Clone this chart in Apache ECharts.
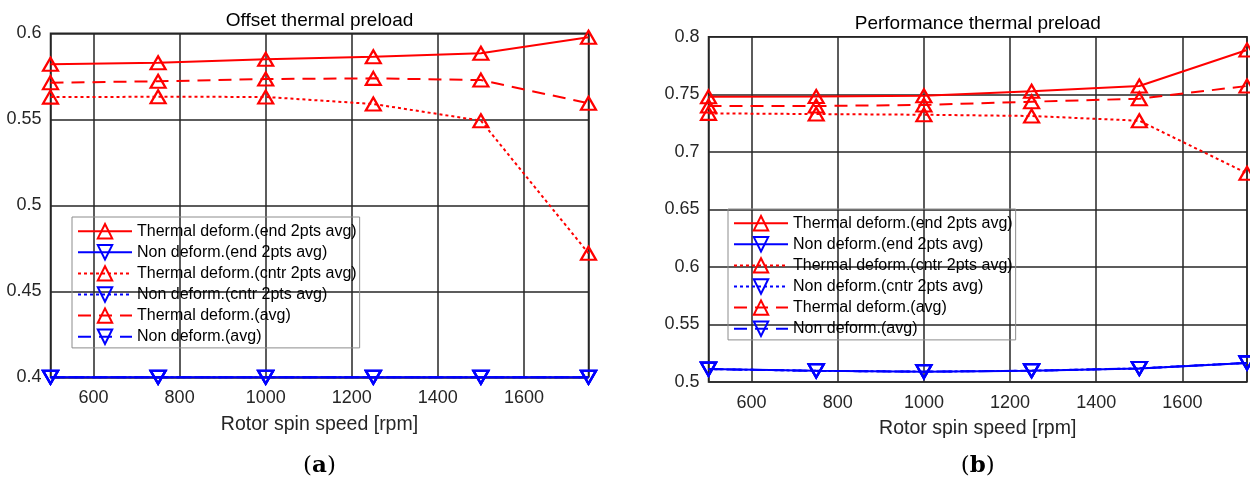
<!DOCTYPE html>
<html>
<head>
<meta charset="utf-8">
<script src="https://cdn.jsdelivr.net/npm/echarts@6/dist/echarts.min.js"></script>
<style>
html,body{margin:0;padding:0;background:#fff;}
#chart{width:1250px;height:482px;}
</style>
</head>
<body>
<div id="chart"></div>
<script>
// ---- data ----
const speeds = [500, 750, 1000, 1250, 1500, 1750];
const xTicks = [600, 800, 1000, 1200, 1400, 1600];

const seriesNames = [
  'Thermal deform.(end 2pts avg)',
  'Non deform.(end 2pts avg)',
  'Thermal deform.(cntr 2pts avg)',
  'Non deform.(cntr 2pts avg)',
  'Thermal deform.(avg)',
  'Non deform.(avg)'
];

// (a) Offset thermal preload
const offThermEnd  = [0.5820, 0.5829, 0.5849, 0.5864, 0.5884, 0.5977];
const offNonEnd    = [0.4000, 0.4000, 0.4000, 0.4000, 0.4000, 0.4000];
const offThermCntr = [0.5629, 0.5631, 0.5630, 0.5589, 0.5492, 0.4721];
const offNonCntr   = [0.4000, 0.4000, 0.4000, 0.4000, 0.4000, 0.4000];
const offThermAvg  = [0.5713, 0.5721, 0.5734, 0.5738, 0.5728, 0.5593];
const offNonAvg    = [0.4000, 0.4000, 0.4000, 0.4000, 0.4000, 0.4000];

// (b) Performance thermal preload
const perfThermEnd  = [0.7479, 0.7480, 0.7487, 0.7526, 0.7572, 0.7884];
const perfNonEnd    = [0.5112, 0.5097, 0.5090, 0.5098, 0.5118, 0.5166];
const perfThermCntr = [0.7334, 0.7328, 0.7322, 0.7311, 0.7270, 0.6813];
const perfNonCntr   = [0.5112, 0.5097, 0.5090, 0.5098, 0.5118, 0.5166];
const perfThermAvg  = [0.7398, 0.7398, 0.7407, 0.7435, 0.7461, 0.7572];
const perfNonAvg    = [0.5112, 0.5097, 0.5090, 0.5098, 0.5118, 0.5166];

const titles = ['Offset thermal preload', 'Performance thermal preload'];
const captions = ['a', 'b'];
const xName = 'Rotor spin speed [rpm]';

// ---- styling ----
const RED = '#ff0000', BLUE = '#0000ff';
const FONT = 'Liberation Sans, Arial, sans-serif';
const TXT = '#262626';
const GRIDC = '#262626';
const UP = 'path://M5,0L10,8.66L0,8.66Z';
const DOWN = 'path://M0,0L10,0L5,8.66Z';
const DASH = [13, 8];
const DOT = [3, 3];

const styleDefs = [
  {color: RED,  type: 'solid', sym: UP},
  {color: BLUE, type: 'solid', sym: DOWN},
  {color: RED,  type: DOT,     sym: UP},
  {color: BLUE, type: DOT,     sym: DOWN},
  {color: RED,  type: DASH,    sym: UP},
  {color: BLUE, type: DASH,    sym: DOWN}
];

const panels = [
  {vals: [offThermEnd, offNonEnd, offThermCntr, offNonCntr, offThermAvg, offNonAvg],
   grid: {left: 50.5, top: 33.3, width: 538, height: 344},
   y: {min: 0.4, max: 0.6},
   legend: {left: 72, top: 217}},
  {vals: [perfThermEnd, perfNonEnd, perfThermCntr, perfNonCntr, perfThermAvg, perfNonAvg],
   grid: {left: 708.5, top: 36.7, width: 538.5, height: 345.3},
   y: {min: 0.5, max: 0.8},
   legend: {left: 728, top: 209}}
];

const grids = [], xAxes = [], yAxes = [], series = [], legends = [], graphics = [];

panels.forEach((p, gi) => {
  grids.push(Object.assign({show: true, borderColor: GRIDC, borderWidth: 1.5, backgroundColor: '#fff'}, p.grid));
  xAxes.push({
    type: 'value', gridIndex: gi, min: speeds[0], max: speeds[speeds.length - 1],
    splitNumber: 6, minInterval: xTicks[1] - xTicks[0], maxInterval: xTicks[1] - xTicks[0],
    name: xName, nameLocation: 'middle', nameGap: 37,
    nameTextStyle: {fontSize: 19.5, color: TXT, fontFamily: FONT},
    axisLine: {show: false}, axisTick: {show: false},
    axisLabel: {show: true, showMinLabel: false, showMaxLabel: false, margin: 12, fontSize: 18, color: TXT, fontFamily: FONT,
      formatter: v => String(v)},
    splitLine: {show: true, lineStyle: {color: GRIDC, width: 1.5}}
  });
  yAxes.push({
    type: 'value', gridIndex: gi, min: p.y.min, max: p.y.max, interval: 0.05,
    axisLine: {show: false}, axisTick: {show: false},
    axisLabel: {margin: 9, fontSize: 18, color: TXT, fontFamily: FONT},
    splitLine: {show: true, lineStyle: {color: GRIDC, width: 1.5}}
  });
  p.vals.forEach((arr, si) => {
    const s = styleDefs[si];
    series.push({
      name: seriesNames[si], type: 'line', xAxisIndex: gi, yAxisIndex: gi,
      data: speeds.map((x, i) => [x, arr[i]]),
      color: s.color,
      symbol: s.sym, symbolSize: [15, 13], showSymbol: true, clip: false,
      lineStyle: {color: s.color, width: 2, type: s.type},
      itemStyle: {color: 'rgba(255,255,255,0)', borderColor: s.color, borderWidth: 2.2},
      emphasis: {disabled: true}, silent: true, z: 3 + si
    });
  });
  legends.push({
    left: p.legend.left, top: p.legend.top, orient: 'vertical',
    itemWidth: 54, itemHeight: 18, itemGap: 4.7, padding: [6, 3, 3, 5],
    borderColor: '#8c8c8c', borderWidth: 1, backgroundColor: 'rgba(0,0,0,0)',
    selectedMode: false,
    textStyle: {fontSize: 16, color: '#000', fontFamily: FONT},
    data: seriesNames.map((n, si) => ({
      name: n,
      itemStyle: {color: 'rgba(255,255,255,0)', borderColor: styleDefs[si].color, borderWidth: 2},
      lineStyle: {color: styleDefs[si].color, width: 2, type: styleDefs[si].type}
    }))
  });
  const cx = p.grid.left + p.grid.width / 2;
  graphics.push({
    type: 'text', x: cx, y: p.grid.top - 13,
    style: {text: titles[gi], fontSize: 19, fontFamily: FONT, fill: '#000', align: 'center', verticalAlign: 'middle'}
  });
  graphics.push({
    type: 'text', x: cx, y: 466,
    style: {
      text: '{p|(}{b|' + captions[gi] + '}{p|)}', align: 'center', verticalAlign: 'middle',
      rich: {
        p: {fontSize: 23, fontFamily: 'DejaVu Serif, Liberation Serif, serif', fill: '#000'},
        b: {fontSize: 23, fontFamily: 'DejaVu Serif, Liberation Serif, serif', fontWeight: 'bold', fill: '#000'}
      }
    }
  });
});

const chart = echarts.init(document.getElementById('chart'), null, {renderer: 'canvas'});
chart.setOption({
  animation: false,
  backgroundColor: '#fff',
  grid: grids, xAxis: xAxes, yAxis: yAxes, series: series, legend: legends,
  graphic: graphics
});
</script>
</body>
</html>
